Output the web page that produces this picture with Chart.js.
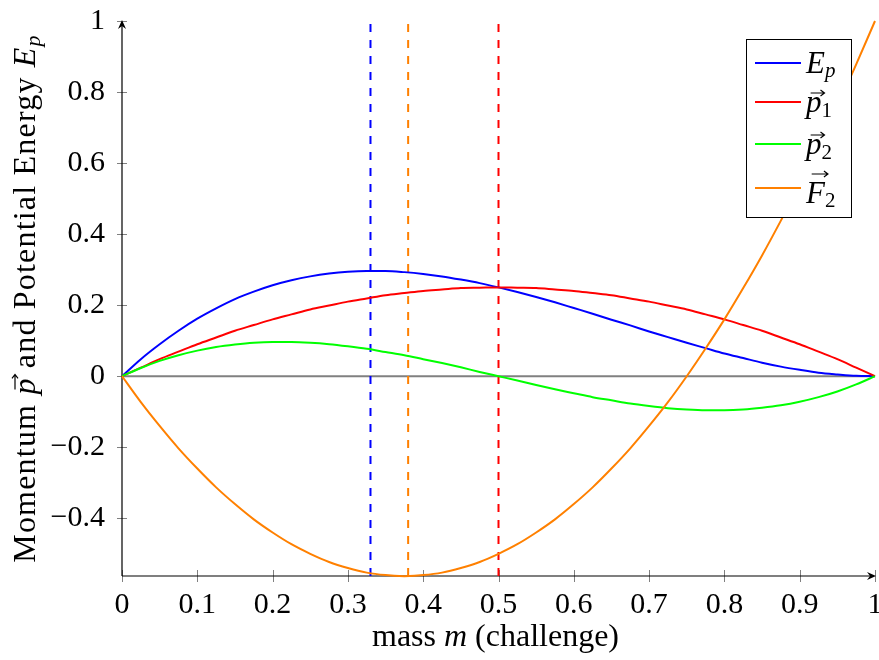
<!DOCTYPE html>
<html>
<head>
<meta charset="utf-8">
<script src="https://cdn.jsdelivr.net/npm/chart.js@4.4.1/dist/chart.umd.min.js"></script>
<style>
  html, body { margin: 0; padding: 0; background: #fff; }
  #wrap { width: 879px; height: 660px; }
</style>
</head>
<body>
<div id="wrap"><canvas id="chart" width="879" height="660"></canvas></div>
<script>
// mass m sample points (every 0.025)
const massValues = [
  0, 0.025, 0.05, 0.075, 0.1, 0.125, 0.15, 0.175, 0.2, 0.225,
  0.25, 0.275, 0.3, 0.325, 0.35, 0.375, 0.4, 0.425, 0.45, 0.475,
  0.5, 0.525, 0.55, 0.575, 0.6, 0.625, 0.65, 0.675, 0.7, 0.725,
  0.75, 0.775, 0.8, 0.825, 0.85, 0.875, 0.9, 0.925, 0.95, 0.975, 1
];
const energyValues = [
  0, 0.048, 0.090, 0.128, 0.162, 0.191, 0.217, 0.238, 0.256, 0.270,
  0.281, 0.289, 0.294, 0.296, 0.296, 0.293, 0.288, 0.281, 0.272, 0.262,
  0.250, 0.237, 0.223, 0.208, 0.192, 0.176, 0.159, 0.143, 0.126, 0.110,
  0.094, 0.079, 0.064, 0.051, 0.038, 0.027, 0.018, 0.010, 0.005, 0.001, 0
];
const momentum1Values = [
  0, 0.024, 0.048, 0.069, 0.090, 0.109, 0.128, 0.144, 0.160, 0.174,
  0.188, 0.199, 0.210, 0.219, 0.228, 0.234, 0.240, 0.244, 0.248, 0.249,
  0.250, 0.249, 0.248, 0.244, 0.240, 0.234, 0.228, 0.219, 0.210, 0.199,
  0.188, 0.174, 0.160, 0.144, 0.128, 0.109, 0.090, 0.069, 0.048, 0.024, 0
];
const momentum2Values = [
  0, 0.023, 0.043, 0.059, 0.072, 0.082, 0.089, 0.094, 0.096, 0.096,
  0.094, 0.090, 0.084, 0.077, 0.068, 0.059, 0.048, 0.037, 0.025, 0.012,
  0, -0.012, -0.025, -0.037, -0.048, -0.059, -0.068, -0.077, -0.084, -0.090,
  -0.094, -0.096, -0.096, -0.094, -0.089, -0.082, -0.072, -0.059, -0.043, -0.023, 0
];
const force2Values = [
  0, -0.073, -0.140, -0.203, -0.260, -0.313, -0.360, -0.403, -0.440, -0.473,
  -0.500, -0.523, -0.540, -0.553, -0.560, -0.563, -0.560, -0.553, -0.540, -0.523,
  -0.500, -0.473, -0.440, -0.403, -0.360, -0.313, -0.260, -0.203, -0.140, -0.073,
  0, 0.078, 0.160, 0.248, 0.340, 0.438, 0.540, 0.648, 0.760, 0.878, 1.000
];

// dashed markers: E_p max, F_2 min, p_1 max
const markerMasses = [0.33, 0.38, 0.5];

const xTickValues = [0, 0.1, 0.2, 0.3, 0.4, 0.5, 0.6, 0.7, 0.8, 0.9, 1];
const yTickValues = [-0.4, -0.2, 0, 0.2, 0.4, 0.6, 0.8, 1];
const Y_MIN = -0.5625;
const Y_MAX = 1;

const BLUE = '#0000ff';
const RED = '#ff0000';
const GREEN = '#00ff00';
const ORANGE = '#ff8000';
const GRAY = '#808080';
const SERIF = '"Liberation Serif", "DejaVu Serif", serif';

const toPoints = (ys) => massValues.map((m, i) => ({ x: m, y: ys[i] }));

function curve(data, color, order) {
    return {
        data: toPoints(data),
        borderColor: color,
        borderWidth: 2,
        pointRadius: 0,
        cubicInterpolationMode: 'monotone',
        clip: 6,
        order: order
    };
}

function marker(m, color) {
    // drawn from the bottom so the dash pattern starts at the axis
    return {
        data: [{ x: m, y: Y_MIN }, { x: m, y: Y_MAX }],
        borderColor: color,
        borderWidth: 2,
        borderDash: [8, 8],
        pointRadius: 0,
        clip: false,
        order: 8
    };
}

// ---- mixed upright / italic text helpers ----
function fontFor(run, base) {
    return (run.italic ? 'italic ' : '') + (run.size || base || 30) + 'px ' + SERIF;
}

function drawVecArrow(ctx, x0, x1, y) {
    ctx.save();
    ctx.letterSpacing = '0px';
    ctx.strokeStyle = '#000';
    ctx.lineWidth = 1.2;
    ctx.beginPath();
    ctx.moveTo(x0, y);
    ctx.lineTo(x1, y);
    ctx.moveTo(x1 - 4, y - 3);
    ctx.lineTo(x1, y);
    ctx.lineTo(x1 - 4, y + 3);
    ctx.stroke();
    ctx.restore();
}

function drawRuns(ctx, x, baseline, runs, align, base) {
    let total = 0;
    runs.forEach(r => {
        ctx.font = fontFor(r, base);
        r.w = ctx.measureText(r.text).width;
        total += r.w;
    });
    let cx = align === 'center' ? x - total / 2 : x;
    ctx.fillStyle = '#000';
    ctx.textAlign = 'left';
    ctx.textBaseline = 'alphabetic';
    runs.forEach(r => {
        ctx.font = fontFor(r, base);
        ctx.fillText(r.text, cx, baseline + (r.dy || 0));
        if (r.arrow) {
            drawVecArrow(ctx, cx + r.w * 0.3, cx + r.w + 3, baseline - r.arrow);
        }
        cx += r.w;
    });
}

// axis lines, arrows and tick marks (under the curves)
const axesPlugin = {
    id: 'axesPlugin',
    beforeDatasetsDraw(chart) {
        const { ctx, chartArea, scales } = chart;
        const x0 = chartArea.left, y0 = chartArea.bottom;
        ctx.save();
        ctx.strokeStyle = GRAY;
        ctx.lineWidth = 1;
        xTickValues.forEach(v => {
            const px = Math.round(scales.x.getPixelForValue(v)) + 0.5;
            ctx.beginPath();
            ctx.moveTo(px, y0 - 6);
            ctx.lineTo(px, y0 + 6);
            ctx.stroke();
        });
        yTickValues.forEach(v => {
            const py = Math.round(scales.y.getPixelForValue(v)) + 0.5;
            ctx.beginPath();
            ctx.moveTo(x0 - 5, py);
            ctx.lineTo(x0 + 5, py);
            ctx.stroke();
        });

        ctx.strokeStyle = '#000';
        ctx.fillStyle = '#000';
        ctx.lineWidth = 1.2;
        const yTop = chartArea.top;
        const xEnd = chartArea.right;
        ctx.beginPath();
        ctx.moveTo(x0, y0);
        ctx.lineTo(xEnd - 2, y0);
        ctx.moveTo(x0, y0);
        ctx.lineTo(x0, yTop + 2);
        ctx.stroke();
        // arrow heads
        ctx.beginPath();
        ctx.moveTo(xEnd + 1, y0);
        ctx.lineTo(xEnd - 8, y0 - 4);
        ctx.lineTo(xEnd - 5, y0);
        ctx.lineTo(xEnd - 8, y0 + 4);
        ctx.closePath();
        ctx.fill();
        ctx.beginPath();
        ctx.moveTo(x0, yTop - 1);
        ctx.lineTo(x0 - 4, yTop + 8);
        ctx.lineTo(x0, yTop + 5);
        ctx.lineTo(x0 + 4, yTop + 8);
        ctx.closePath();
        ctx.fill();
        ctx.restore();
    }
};

// axis titles and legend
const labelsPlugin = {
    id: 'labelsPlugin',
    afterDraw(chart) {
        const { ctx, chartArea } = chart;
        ctx.save();

        // x title
        drawRuns(ctx, (chartArea.left + chartArea.right) / 2 - 3, 646, [
            { text: 'mass ' },
            { text: 'm', italic: true },
            { text: ' (challenge)' }
        ], 'center', 32);

        // y title (rotated)
        ctx.save();
        ctx.translate(35, (chartArea.top + chartArea.bottom) / 2);
        ctx.rotate(-Math.PI / 2);
        ctx.letterSpacing = '1.2px';
        drawRuns(ctx, 0, 0, [
            { text: 'Momentum ' },
            { text: 'p', italic: true, arrow: 20 },
            { text: ' and Potential Energy ' },
            { text: 'E', italic: true },
            { text: 'p', italic: true, size: 22, dy: 5 }
        ], 'center', 32);
        ctx.restore();

        // legend box
        ctx.fillStyle = '#fff';
        ctx.fillRect(746, 39, 106, 179);
        ctx.strokeStyle = '#000';
        ctx.lineWidth = 1;
        ctx.strokeRect(746.5, 39.5, 105, 178);

        const rows = [
            { color: BLUE, lineY: 63, base: 73, runs: [
                { text: 'E', italic: true },
                { text: 'p', italic: true, size: 21, dy: 4 }
            ] },
            { color: RED, lineY: 102, base: 112, runs: [
                { text: 'p', italic: true, arrow: 19 },
                { text: '1', size: 21, dy: 5 }
            ] },
            { color: GREEN, lineY: 144, base: 154, runs: [
                { text: 'p', italic: true, arrow: 19 },
                { text: '2', size: 21, dy: 5 }
            ] },
            { color: ORANGE, lineY: 188, base: 203, runs: [
                { text: 'F', italic: true, arrow: 29 },
                { text: '2', size: 21, dy: 4 }
            ] }
        ];
        rows.forEach(r => {
            ctx.strokeStyle = r.color;
            ctx.lineWidth = 2;
            ctx.beginPath();
            ctx.moveTo(755, r.lineY);
            ctx.lineTo(801, r.lineY);
            ctx.stroke();
            drawRuns(ctx, 806, r.base, r.runs, 'left', 31);
        });

        ctx.restore();
    }
};

const tickFont = { family: SERIF, size: 30 };

new Chart(document.getElementById('chart'), {
    type: 'line',
    data: {
        datasets: [
            curve(force2Values, ORANGE, 1),
            curve(momentum2Values, GREEN, 2),
            curve(momentum1Values, RED, 3),
            curve(energyValues, BLUE, 4),
            marker(markerMasses[0], BLUE),
            marker(markerMasses[1], ORANGE),
            marker(markerMasses[2], RED),
            {
                data: [{ x: 0, y: 0 }, { x: 1, y: 0 }],
                borderColor: GRAY,
                borderWidth: 2,
                pointRadius: 0,
                order: 10
            }
        ]
    },
    options: {
        responsive: false,
        devicePixelRatio: 1,
        animation: false,
        parsing: false,
        layout: { padding: { top: 21, right: 4, left: 0, bottom: 0 } },
        plugins: {
            legend: { display: false },
            tooltip: { enabled: false }
        },
        scales: {
            x: {
                type: 'linear',
                min: 0,
                max: 1,
                grid: { display: false, drawTicks: false },
                border: { display: false },
                afterBuildTicks: (s) => { s.ticks = xTickValues.map(v => ({ value: v })); },
                afterFit: (s) => { s.height = 84; s.paddingLeft = 0; s.paddingRight = 0; },
                ticks: {
                    font: tickFont,
                    color: '#000',
                    padding: 11,
                    maxRotation: 0,
                    autoSkip: false,
                    callback: (v) => String(v)
                }
            },
            y: {
                type: 'linear',
                min: Y_MIN,
                max: Y_MAX,
                grid: { display: false, drawTicks: false },
                border: { display: false },
                afterBuildTicks: (s) => { s.ticks = yTickValues.map(v => ({ value: v })); },
                afterFit: (s) => { s.width = 122; s.paddingTop = 0; s.paddingBottom = 0; },
                ticks: {
                    font: tickFont,
                    color: '#000',
                    padding: 17,
                    autoSkip: false,
                    callback: (v) => v < 0 ? '\u2212' + String(-v) : String(v)
                }
            }
        }
    },
    plugins: [axesPlugin, labelsPlugin]
});
</script>
</body>
</html>
